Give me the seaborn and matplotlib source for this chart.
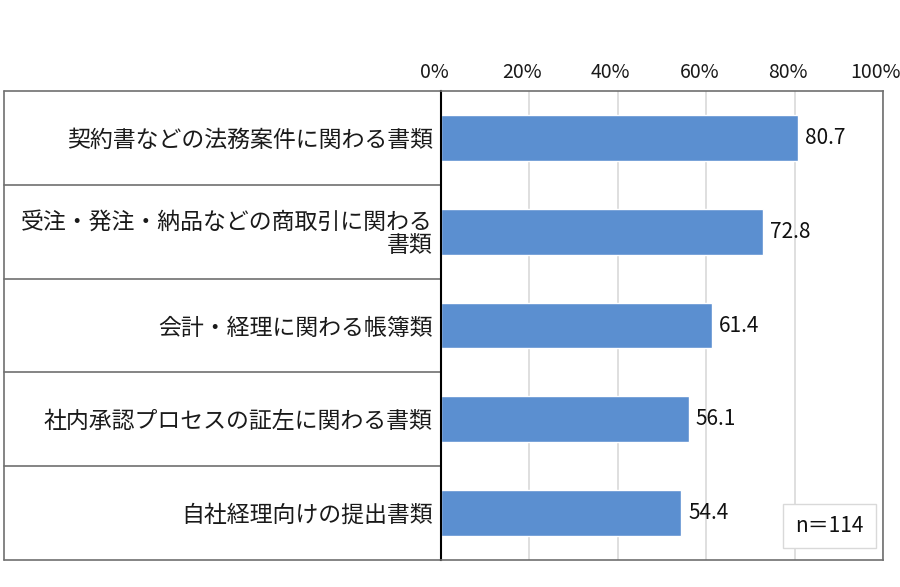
import matplotlib
matplotlib.use("Agg")
import matplotlib.pyplot as plt
import matplotlib.transforms as mtransforms
from matplotlib.lines import Line2D
from matplotlib.patches import Rectangle
import seaborn as sns
import pandas as pd

categories = [
    "契約書などの法務案件に関わる書類",
    "受注・発注・納品などの商取引に関わる\n書類",
    "会計・経理に関わる帳簿類",
    "社内承認プロセスの証左に関わる書類",
    "自社経理向けの提出書類",
]
values = [80.7, 72.8, 61.4, 56.1, 54.4]
tick_values = [0, 20, 40, 60, 80, 100]
tick_labels = ["0%", "20%", "40%", "60%", "80%", "100%"]
n_label = "n＝114"

sns.set_theme(style="white")
plt.rcParams["font.family"] = ["Noto Sans CJK JP", "DejaVu Sans"]

W, H = 900, 587
fig = plt.figure(figsize=(9, 5.87), dpi=100)
left_px, right_px, top_px, bot_px = 441, 883, 91, 560
ax = fig.add_axes([left_px / W, 1 - bot_px / H, (right_px - left_px) / W, (bot_px - top_px) / H])

df = pd.DataFrame({"cat": categories, "val": values})
sns.barplot(data=df, y="cat", x="val", orient="h", color="#5B8FD0", width=0.49,
            saturation=1, ax=ax)

ax.set_xlim(0, 100)
ax.set_ylim(len(categories) - 0.5, -0.5)
ax.set_xlabel("")
ax.set_ylabel("")
ax.xaxis.tick_top()
ax.set_xticks(tick_values)
ax.set_xticklabels(tick_labels, fontsize=14, color="#1a1a1a")
ax.tick_params(axis="x", length=0, pad=6)
shift = mtransforms.ScaledTranslation(-7 / 100, 0, fig.dpi_scale_trans)
for lab in ax.get_xticklabels():
    lab.set_transform(lab.get_transform() + shift)
ax.tick_params(axis="y", length=0, pad=6, labelsize=16.5, labelcolor="#1a1a1a")
for lab in ax.get_yticklabels():
    lab.set_horizontalalignment("right")
    lab.set_multialignment("right")
    lab.set_linespacing(1.0)

ax.grid(axis="x", color="#D9D9D9", linewidth=1.2)
ax.set_axisbelow(True)
for s in ["top", "right", "bottom"]:
    ax.spines[s].set_color("#6f6f6f")
    ax.spines[s].set_linewidth(1.2)
ax.spines["left"].set_color("black")
ax.spines["left"].set_linewidth(1.5)

for c in ax.containers:
    ax.bar_label(c, labels=[f"{v:.1f}" for v in values], padding=5, fontsize=15,
                 color="#111111")

# table lines on the left
trans = mtransforms.blended_transform_factory(ax.transAxes, ax.transData)
x0 = (4 - left_px) / (right_px - left_px)
for yb in [i + 0.5 for i in range(-1, len(categories))]:
    ax.add_line(Line2D([x0, 0], [yb, yb], transform=trans, color="#6f6f6f",
                       linewidth=1.2, clip_on=False))
ax.add_line(Line2D([x0, x0], [-0.5, len(categories) - 0.5], transform=trans,
                   color="#6f6f6f", linewidth=1.2, clip_on=False))

# n box
bx0, by0, bx1, by1 = 783, 504, 876, 548
fig.patches.append(Rectangle((bx0 / W, 1 - by1 / H), (bx1 - bx0) / W, (by1 - by0) / H,
                             transform=fig.transFigure, facecolor="white",
                             edgecolor="#D9D9D9", linewidth=1))
fig.text((bx0 + bx1) / 2 / W, 1 - (by0 + by1) / 2 / H, n_label, ha="center",
         va="center", fontsize=15, color="#111111")

fig.savefig("out.png", dpi=100, facecolor="white")
